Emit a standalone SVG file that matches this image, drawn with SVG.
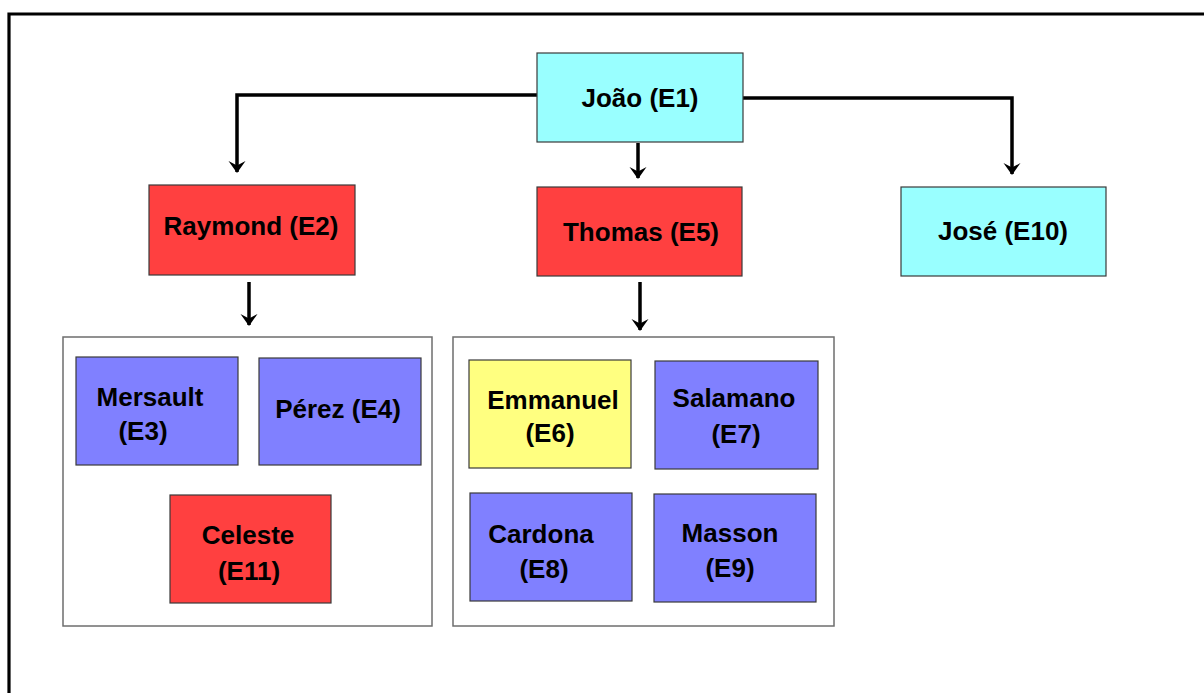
<svg xmlns="http://www.w3.org/2000/svg" width="1204" height="693" viewBox="0 0 1204 693">
<style>
  .node { stroke: #3a3a3a; stroke-width: 1.2; }
  .cyan { fill: #99FFFF; }
  .red { fill: #FF4040; }
  .blue { fill: #8080FF; }
  .yellow { fill: #FFFF80; }
  .box { fill: #FFFFFF; stroke: #6e6e6e; stroke-width: 1.5; }
  .lbl { font-family: "Liberation Sans", Arial, sans-serif; font-weight: bold; font-size: 26px; fill: #000; text-anchor: middle; }
  .conn { fill: none; stroke: #000; stroke-width: 3.5; }
</style>
<defs>
  <marker id="arr" markerUnits="userSpaceOnUse" markerWidth="22" markerHeight="22" viewBox="-13 -11 15 22" refX="0" refY="0" orient="auto">
    <path d="M1,0 L-11,-8.5 L-6.5,0 L-11,8.5 Z" fill="#000"/>
  </marker>
</defs>
<rect width="1204" height="693" fill="#FFFFFF"/>
<path d="M9,693 V14 H1204" fill="none" stroke="#000" stroke-width="3.2"/>

<g id="containers">
  <rect id="group-raymond" class="box" x="63" y="337" width="369" height="289"/>
  <rect id="group-thomas" class="box" x="453" y="337" width="381" height="289"/>
</g>

<g id="connectors">
  <path class="conn" d="M537,95 H237 V172" marker-end="url(#arr)"/>
  <path class="conn" d="M743,98 H1012 V174" marker-end="url(#arr)"/>
  <path class="conn" d="M638,143 V178" marker-end="url(#arr)"/>
  <path class="conn" d="M249,282 V325" marker-end="url(#arr)"/>
  <path class="conn" d="M640,282 V330" marker-end="url(#arr)"/>
</g>

<g id="E1"><rect class="node cyan" x="537" y="53" width="206" height="89"/><text class="lbl" x="640" y="107">João (E1)</text></g>
<g id="E2"><rect class="node red" x="149" y="185" width="206" height="90"/><text class="lbl" x="251" y="235">Raymond (E2)</text></g>
<g id="E5"><rect class="node red" x="537" y="187" width="205" height="89"/><text class="lbl" x="641" y="241">Thomas (E5)</text></g>
<g id="E10"><rect class="node cyan" x="901" y="187" width="205" height="89"/><text class="lbl" x="1003" y="240">José (E10)</text></g>

<g id="E3"><rect class="node blue" x="76" y="357" width="162" height="108"/><text class="lbl" x="150" y="406">Mersault</text><text class="lbl" x="143" y="440">(E3)</text></g>
<g id="E4"><rect class="node blue" x="259" y="358" width="162" height="107"/><text class="lbl" x="338" y="418">Pérez (E4)</text></g>
<g id="E11"><rect class="node red" x="170" y="495" width="161" height="108"/><text class="lbl" x="248" y="544">Celeste</text><text class="lbl" x="249" y="580">(E11)</text></g>

<g id="E6"><rect class="node yellow" x="469" y="360" width="162" height="108"/><text class="lbl" x="553" y="409">Emmanuel</text><text class="lbl" x="550" y="442">(E6)</text></g>
<g id="E7"><rect class="node blue" x="655" y="361" width="163" height="108"/><text class="lbl" x="734" y="407">Salamano</text><text class="lbl" x="736" y="443">(E7)</text></g>
<g id="E8"><rect class="node blue" x="470" y="493" width="162" height="108"/><text class="lbl" x="541" y="543">Cardona</text><text class="lbl" x="544" y="578">(E8)</text></g>
<g id="E9"><rect class="node blue" x="654" y="494" width="162" height="108"/><text class="lbl" x="730" y="542">Masson</text><text class="lbl" x="730" y="577">(E9)</text></g>
</svg>
